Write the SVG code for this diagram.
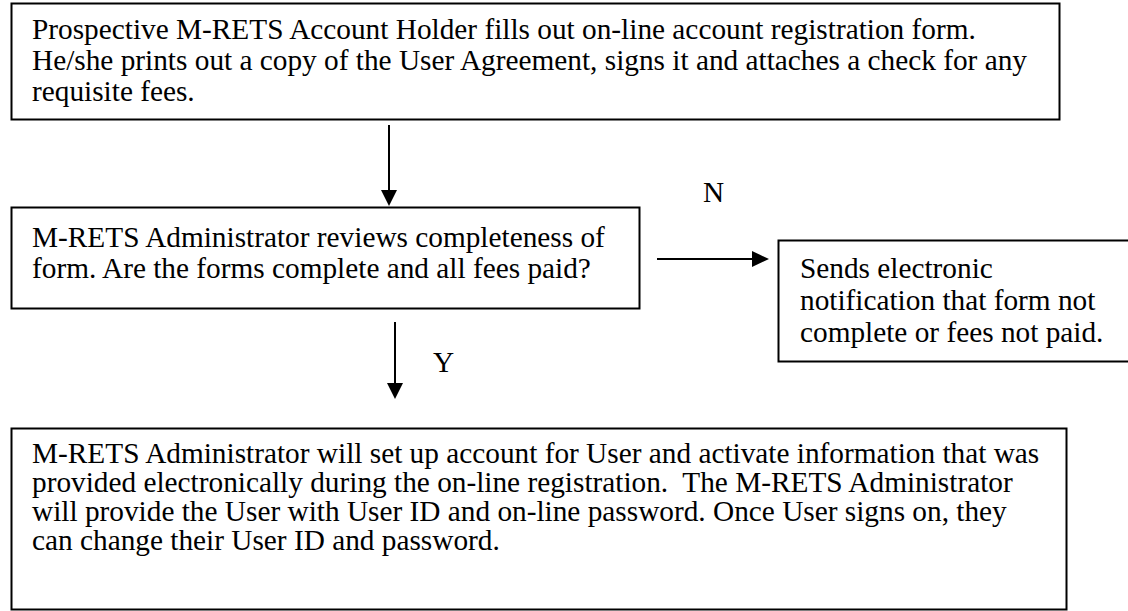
<svg xmlns="http://www.w3.org/2000/svg" width="1128" height="611" viewBox="0 0 1128 611">
<style>
.box{fill:#fff;stroke:#000;stroke-width:2}
.t{font-family:"Liberation Serif","Times New Roman",serif;font-size:29.3px;fill:#000}
.c{stroke:#000;stroke-width:2;fill:none}
</style>
<rect width="1128" height="611" fill="#fff"/>
<g id="connectors">
<line class="c" x1="389" y1="125" x2="389" y2="190"/>
<path d="M381,190 L397,190 L389,206 Z" fill="#000"/>
<line class="c" x1="657" y1="259" x2="752" y2="259"/>
<path d="M752,251 L752,267 L769,259 Z" fill="#000"/>
<line class="c" x1="395" y1="322" x2="395" y2="383"/>
<path d="M387,383 L403,383 L395,399 Z" fill="#000"/>
<text class="t" x="703" y="202">N</text>
<text class="t" x="433" y="372">Y</text>
</g>
<g id="n1">
<rect class="box" x="11.5" y="3.5" width="1048" height="116"/>
<text class="t" x="32" y="39">Prospective M-RETS Account Holder fills out on-line account registration form.</text>
<text class="t" x="32" y="70">He/she prints out a copy of the User Agreement, signs it and attaches a check for any</text>
<text class="t" x="32" y="101">requisite fees.</text>
</g>
<g id="n2">
<rect class="box" x="11.5" y="207.5" width="628" height="101"/>
<text class="t" x="32" y="247">M-RETS Administrator reviews completeness of</text>
<text class="t" x="32" y="278">form. Are the forms complete and all fees paid?</text>
</g>
<g id="n3">
<rect class="box" x="778.5" y="240.5" width="360" height="121"/>
<text class="t" x="800" y="278">Sends electronic</text>
<text class="t" x="800" y="310">notification that form not</text>
<text class="t" x="800" y="342">complete or fees not paid.</text>
</g>
<g id="n4">
<rect class="box" x="11.5" y="428.5" width="1055" height="181"/>
<text class="t" x="32" y="463">M-RETS Administrator will set up account for User and activate information that was</text>
<text class="t" x="32" y="492" xml:space="preserve">provided electronically during the on-line registration.  The M-RETS Administrator</text>
<text class="t" x="32" y="521">will provide the User with User ID and on-line password. Once User signs on, they</text>
<text class="t" x="32" y="550">can change their User ID and password.</text>
</g>
</svg>
